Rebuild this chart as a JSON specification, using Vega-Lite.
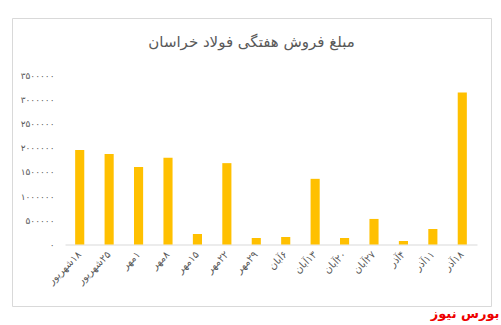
{
  "$schema": "https://vega.github.io/schema/vega-lite/v6.json",
  "autosize": {"type": "none"},
  "width": 479,
  "height": 288,
  "padding": {"left": 12, "top": 18, "right": 10, "bottom": 19},
  "background": "white",
  "config": {
    "view": {"stroke": "#d9d9d9", "strokeWidth": 1},
    "font": "DejaVu Sans"
  },
  "title": {
    "text": "مبلغ فروش هفتگی فولاد خراسان",
    "anchor": "middle",
    "offset": -32,
    "fontSize": 15,
    "fontWeight": "normal",
    "color": "#595959",
    "font": "DejaVu Sans"
  },
  "data": {
    "values": [
      {"date": "۱۸شهریور", "amount": 1950000},
      {"date": "۲۵شهریور", "amount": 1870000},
      {"date": "۱مهر", "amount": 1600000},
      {"date": "۸مهر", "amount": 1790000},
      {"date": "۱۵مهر", "amount": 217000},
      {"date": "۲۲مهر", "amount": 1680000},
      {"date": "۲۹مهر", "amount": 134000},
      {"date": "۶آبان", "amount": 155000},
      {"date": "۱۳آبان", "amount": 1356000},
      {"date": "۲۰آبان", "amount": 134000},
      {"date": "۲۷آبان", "amount": 528000},
      {"date": "۴آذر", "amount": 72000},
      {"date": "۱۱آذر", "amount": 320000},
      {"date": "۱۸آذر", "amount": 3137000}
    ]
  },
  "mark": {"type": "bar", "color": "#FFC000"},
  "encoding": {
    "x": {
      "field": "date",
      "type": "nominal",
      "sort": null,
      "scale": {"range": [53, 465], "paddingInner": 0.69, "paddingOuter": 0.345},
      "axis": {
        "offset": -61.5,
        "ticks": false,
        "tickSize": 0,
        "domainColor": "#d9d9d9",
        "domainWidth": 1,
        "labelAngle": -45,
        "labelAlign": "right",
        "labelBaseline": "middle",
        "labelPadding": 8,
        "labelFontSize": 10,
        "labelColor": "#595959",
        "labelExpr": "'\u200f' + datum.label",
        "title": "بورس نیوز",
        "titleColor": "#ee0000",
        "titleFontSize": 13,
        "titleFontWeight": "bold",
        "titleAlign": "right",
        "titleBaseline": "middle",
        "titleX": 487,
        "titleY": 68.5,
        "titleAnchor": null
      }
    },
    "y": {
      "field": "amount",
      "type": "quantitative",
      "scale": {"domain": [0, 3500000], "range": [226.5, 57], "nice": false},
      "axis": {
        "offset": -44,
        "values": [0, 500000, 1000000, 1500000, 2000000, 2500000, 3000000, 3500000],
        "ticks": false,
        "tickSize": 0,
        "domain": false,
        "grid": false,
        "labelPadding": 2,
        "labelFontSize": 9,
        "labelColor": "#595959",
        "title": null,
        "labelExpr": "replace(replace(replace(replace(replace(format(datum.value,'d'),regexp('0','g'),'۰'),regexp('1','g'),'۱'),regexp('2','g'),'۲'),regexp('3','g'),'۳'),regexp('5','g'),'۵')"
      }
    }
  }
}
